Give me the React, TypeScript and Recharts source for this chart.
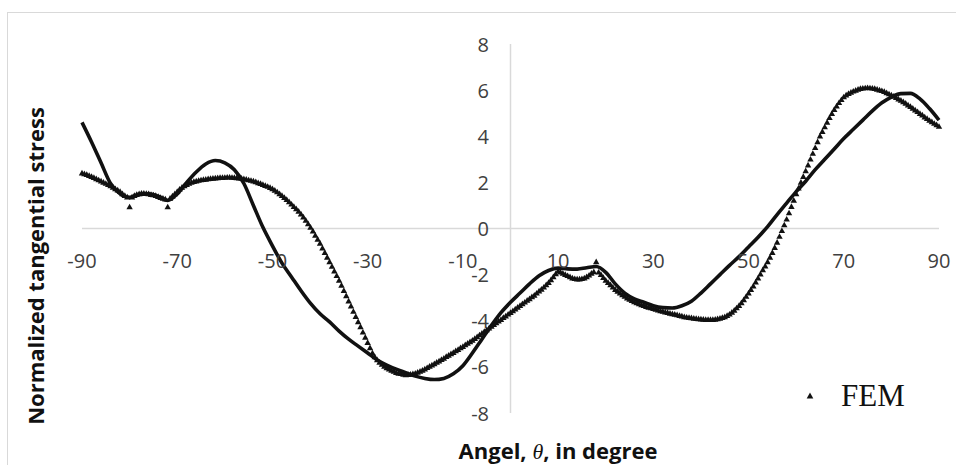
import React from "react";
import {
  ComposedChart,
  Line,
  Scatter,
  XAxis,
  YAxis,
  ReferenceLine,
} from "recharts";

// tick labels
const xTicks = [-90, -70, -50, -30, -10, 10, 30, 50, 70, 90];
const yTicks = [-8, -6, -4, -2, 0, 2, 4, 6, 8];

// analytical solution, sampled every 2 degrees from -90 to 90
const analyticalStress = [
  4.6, 3.75, 2.85, 1.95, 1.5, 1.35, 1.48, 1.5, 1.4, 1.22,
  1.5, 2.0, 2.45, 2.8, 2.95, 2.85, 2.55, 1.95, 1.0, 0.05,
  -0.75, -1.5, -2.1, -2.7, -3.25, -3.7, -4.05, -4.45, -4.8, -5.1,
  -5.4, -5.7, -5.92, -6.1, -6.25, -6.4, -6.5, -6.55, -6.5, -6.3,
  -5.95, -5.4, -4.8, -4.2, -3.65, -3.2, -2.8, -2.4, -2.05, -1.82,
  -1.72, -1.75, -1.76, -1.7, -1.65, -1.9, -2.4, -2.8, -3.05, -3.2,
  -3.35, -3.43, -3.45, -3.35, -3.15, -2.8, -2.4, -2.0, -1.6, -1.22,
  -0.8, -0.38, 0.08, 0.6, 1.1, 1.6, 2.05, 2.55, 3.0, 3.45,
  3.9, 4.3, 4.7, 5.1, 5.45, 5.7, 5.85, 5.86, 5.62, 5.2,
  4.7,
];
const analyticalAngles = analyticalStress.map((_, i) => -90 + i * 2);

// FEM nodal results, every half degree from -90 to 90 (one row = 10 degrees)
const femStress = [
  2.4, 2.37, 2.33, 2.29, 2.25, 2.2, 2.15, 2.1, 2.05, 2.0, 1.95, 1.9, 1.85, 1.78, 1.72, 1.66, 1.6, 1.5, 1.42, 1.36,
  0.93, 1.36, 1.42, 1.47, 1.5, 1.52, 1.52, 1.51, 1.5, 1.47, 1.45, 1.42, 1.38, 1.34, 1.3, 1.27, 0.93, 1.3, 1.4, 1.5,
  1.6, 1.7, 1.78, 1.85, 1.9, 1.95, 2.0, 2.03, 2.05, 2.08, 2.1, 2.12, 2.13, 2.15, 2.16, 2.17, 2.18, 2.19, 2.2, 2.2,
  2.21, 2.22, 2.22, 2.21, 2.2, 2.19, 2.18, 2.17, 2.15, 2.13, 2.1, 2.08, 2.05, 2.02, 1.98, 1.94, 1.9, 1.86, 1.82, 1.77,
  1.72, 1.65, 1.58, 1.5, 1.42, 1.34, 1.25, 1.15, 1.05, 0.95, 0.85, 0.74, 0.62, 0.49, 0.35, 0.2, 0.05, -0.12, -0.3, -0.47,
  -0.65, -0.85, -1.05, -1.25, -1.45, -1.65, -1.85, -2.05, -2.25, -2.47, -2.7, -2.92, -3.15, -3.37, -3.6, -3.82, -4.05, -4.27, -4.5, -4.72,
  -4.95, -5.18, -5.4, -5.57, -5.7, -5.81, -5.9, -5.98, -6.05, -6.1, -6.15, -6.2, -6.25, -6.28, -6.3, -6.33, -6.35, -6.34, -6.33, -6.31,
  -6.28, -6.24, -6.2, -6.15, -6.1, -6.04, -5.98, -5.93, -5.87, -5.81, -5.75, -5.69, -5.63, -5.56, -5.5, -5.44, -5.38, -5.31, -5.25, -5.18,
  -5.12, -5.05, -4.98, -4.92, -4.85, -4.78, -4.7, -4.62, -4.55, -4.47, -4.4, -4.32, -4.25, -4.17, -4.1, -4.02, -3.95, -3.87, -3.8, -3.72,
  -3.65, -3.57, -3.5, -3.42, -3.35, -3.27, -3.2, -3.12, -3.05, -2.97, -2.9, -2.81, -2.72, -2.64, -2.55, -2.45, -2.35, -2.23, -2.1, -1.97,
  -1.85, -1.9, -1.95, -2.0, -2.05, -2.1, -2.15, -2.18, -2.2, -2.2, -2.18, -2.15, -2.1, -2.03, -1.95, -1.88, -1.45, -1.9, -2.0, -2.13,
  -2.25, -2.35, -2.45, -2.55, -2.65, -2.73, -2.8, -2.88, -2.95, -3.02, -3.08, -3.13, -3.18, -3.23, -3.27, -3.31, -3.35, -3.39, -3.42, -3.45,
  -3.48, -3.51, -3.54, -3.57, -3.6, -3.63, -3.65, -3.68, -3.7, -3.73, -3.75, -3.78, -3.8, -3.83, -3.85, -3.87, -3.88, -3.9, -3.91, -3.92,
  -3.93, -3.94, -3.95, -3.95, -3.95, -3.95, -3.94, -3.92, -3.9, -3.87, -3.83, -3.78, -3.72, -3.64, -3.55, -3.45, -3.35, -3.23, -3.1, -2.95,
  -2.8, -2.65, -2.5, -2.33, -2.15, -1.98, -1.8, -1.63, -1.45, -1.25, -1.05, -0.83, -0.6, -0.35, -0.1, 0.15, 0.4, 0.67, 0.95, 1.22,
  1.5, 1.75, 2.0, 2.25, 2.5, 2.75, 3.0, 3.25, 3.5, 3.75, 4.0, 4.2, 4.4, 4.6, 4.8, 4.98, 5.15, 5.3, 5.45, 5.58,
  5.7, 5.78, 5.85, 5.9, 5.95, 5.99, 6.03, 6.06, 6.08, 6.09, 6.1, 6.09, 6.08, 6.06, 6.03, 6.0, 5.97, 5.93, 5.88, 5.83,
  5.78, 5.73, 5.67, 5.61, 5.55, 5.49, 5.42, 5.35, 5.28, 5.21, 5.13, 5.06, 4.98, 4.91, 4.83, 4.76, 4.68, 4.62, 4.55, 4.49,
  4.42,
];
const femAngles = femStress.map((_, i) => -90 + i * 0.5);

const analyticalData = analyticalAngles.map((a, i) => ({ angle: a, stress: analyticalStress[i] }));
const femData = femAngles.map((a, i) => ({ angle: a, stress: femStress[i] }));

const tickFont = "'Open Sans', sans-serif";

const XTick = (props: any) => {
  const { x, payload } = props;
  return (
    <text x={x} y={260} textAnchor="middle" dominantBaseline="central"
      fontFamily={tickFont} fontSize={20} fill="#404040">
      {payload.value}
    </text>
  );
};

const YTick = (props: any) => {
  const { y, payload } = props;
  return (
    <text x={489} y={y} textAnchor="end" dominantBaseline="central"
      fontFamily={tickFont} fontSize={20} fill="#404040">
      {payload.value}
    </text>
  );
};

const Triangle = (props: any) => {
  const { cx, cy } = props;
  if (cx == null || cy == null) return null;
  return (
    <polygon
      points={`${cx},${cy - 3.4} ${cx - 3.2},${cy + 2.3} ${cx + 3.2},${cy + 2.3}`}
      fill="#111"
    />
  );
};

export default function App() {
  return (
    <div
      style={{
        position: "fixed",
        left: 0,
        top: 0,
        width: 956,
        height: 465,
        background: "#fff",
        overflow: "hidden",
      }}
    >
      {/* outer frame */}
      <div
        style={{
          position: "absolute",
          left: 7,
          top: 12,
          width: 970,
          height: 470,
          border: "1.5px solid #d9d9d9",
        }}
      />

      <div style={{ position: "absolute", left: 0, top: 0 }}>
        <ComposedChart
          width={956}
          height={465}
          margin={{ top: 44, right: 17, bottom: 51, left: 81 }}
        >
          <XAxis
            dataKey="angle"
            type="number"
            domain={[-90, 90]}
            ticks={xTicks}
            axisLine={false}
            tickLine={false}
            height={1}
            tick={<XTick />}
            interval={0}
          />
          <YAxis
            type="number"
            domain={[-8, 8]}
            ticks={yTicks}
            axisLine={false}
            tickLine={false}
            width={1}
            tick={<YTick />}
            interval={0}
          />
          <ReferenceLine y={0} stroke="#d9d9d9" strokeWidth={1.5} />
          <ReferenceLine x={0} stroke="#d9d9d9" strokeWidth={1.5} />
          <Line
            data={analyticalData}
            dataKey="stress"
            type="monotone"
            stroke="#111"
            strokeWidth={3.6}
            dot={false}
            activeDot={false}
            isAnimationActive={false}
          />
          <Scatter
            data={femData}
            dataKey="stress"
            shape={<Triangle />}
            isAnimationActive={false}
          />
        </ComposedChart>
      </div>

      {/* y axis title */}
      <div
        style={{
          position: "absolute",
          left: 35,
          top: 266,
          transform: "translate(-50%, -50%) rotate(-90deg)",
          whiteSpace: "nowrap",
          fontFamily: tickFont,
          fontWeight: 700,
          fontSize: 22,
          color: "#111",
        }}
      >
        Normalized tangential stress
      </div>

      {/* x axis title */}
      <div
        style={{
          position: "absolute",
          left: 558,
          top: 450,
          transform: "translate(-50%, -50%)",
          whiteSpace: "nowrap",
          fontFamily: tickFont,
          fontWeight: 700,
          fontSize: 22,
          color: "#111",
        }}
      >
        Angel,{" "}
        <span style={{ fontFamily: "'Liberation Serif', serif", fontStyle: "italic", fontWeight: 400 }}>
          θ
        </span>
        , in degree
      </div>

      {/* legend */}
      <div
        style={{
          position: "absolute",
          left: 803,
          top: 376,
          display: "flex",
          alignItems: "center",
          whiteSpace: "nowrap",
        }}
      >
        <svg width={14} height={14}>
          <polygon points="7,3.4 3.7,9.4 10.3,9.4" fill="#111" />
        </svg>
        <span
          style={{
            marginLeft: 24,
            fontFamily: "'Liberation Serif', 'Times New Roman', serif",
            fontSize: 31,
            color: "#111",
            lineHeight: "40px",
          }}
        >
          FEM
        </span>
      </div>
    </div>
  );
}
